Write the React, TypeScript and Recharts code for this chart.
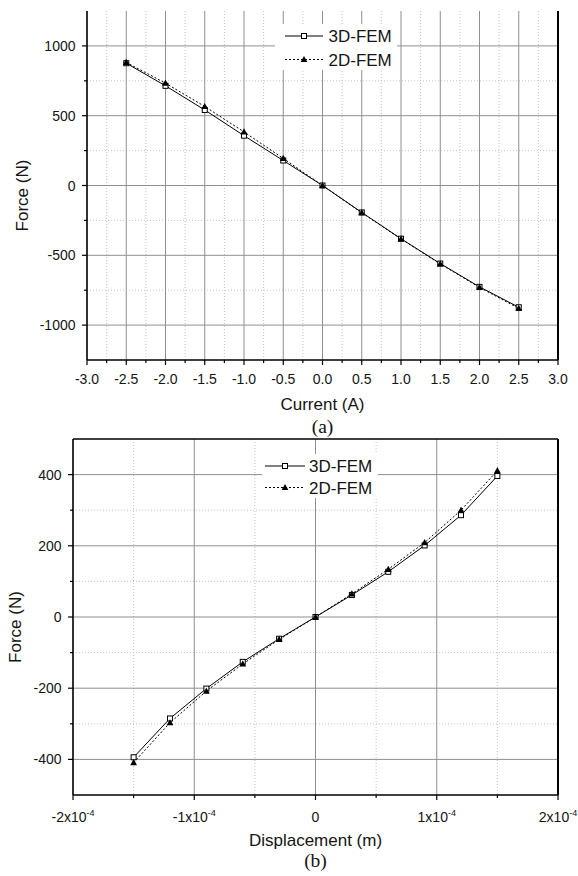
import React from 'react';
import {
  LineChart,
  Line,
  XAxis,
  YAxis,
  CartesianGrid,
  Legend,
  ReferenceLine,
  Label,
} from 'recharts';

const SANS = '"Liberation Sans", Arial, Helvetica, sans-serif';
const SERIF = '"Liberation Serif", "Times New Roman", Times, serif';

// (a) Force versus coil current
const currentA = [-2.5, -2, -1.5, -1, -0.5, 0, 0.5, 1, 1.5, 2, 2.5];
const force3DvsCurrent = [876, 714, 541, 357, 179, 0, -193, -381, -559, -726, -872];
const force2DvsCurrent = [882, 733, 566, 384, 194, 0, -195, -383, -562, -730, -880];
const currentMajorTicks = [-3, -2.5, -2, -1.5, -1, -0.5, 0, 0.5, 1, 1.5, 2, 2.5, 3];
const currentMinorTicks = [-2.75, -2.25, -1.75, -1.25, -0.75, -0.25, 0.25, 0.75, 1.25, 1.75, 2.25, 2.75];
const forceAMajorTicks = [-1000, -500, 0, 500, 1000];
const forceAMinorTicks = [-750, -250, 250, 750];

// (b) Force versus mover displacement
const displacementM = [-1.5e-4, -1.2e-4, -0.9e-4, -0.6e-4, -0.3e-4, 0, 0.3e-4, 0.6e-4, 0.9e-4, 1.2e-4, 1.5e-4];
const force3DvsDisp = [-394, -285, -201, -126, -61, 0, 62, 127, 201, 286, 396];
const force2DvsDisp = [-409, -297, -208, -132, -63, 0, 65, 134, 209, 300, 411];
const dispMajorTicks = [-2e-4, -1e-4, 0, 1e-4, 2e-4];
const dispMinorTicks = [-1.5e-4, -0.5e-4, 0.5e-4, 1.5e-4];
const forceBMajorTicks = [-400, -200, 0, 200, 400];
const forceBMinorTicks = [-300, -100, 100, 300];

const seriesNames = ['3D-FEM', '2D-FEM'];

const dataA = currentA.map((x, i) => ({ x, f3: force3DvsCurrent[i], f2: force2DvsCurrent[i] }));
const dataB = displacementM.map((x, i) => ({ x, f3: force3DvsDisp[i], f2: force2DvsDisp[i] }));

const sortNum = (a: number[]) => [...a].sort((p, q) => p - q);
const isIn = (list: number[], v: number) => list.some((m) => Math.abs(m - v) < 1e-12);

const GRID_MAJOR = '#8f8f8f';
const GRID_MINOR = '#c4c4c4';
const TEXT = '#141414';

const SquareDot = (props: any) => {
  const { cx, cy, index } = props;
  if (cx == null || cy == null) return <g key={`s${index}`} />;
  return (
    <rect key={`s${index}`} x={cx - 2.5} y={cy - 2.5} width={5} height={5} fill="#fff" stroke="#000" strokeWidth={1} />
  );
};

const TriangleDot = (props: any) => {
  const { cx, cy, index } = props;
  if (cx == null || cy == null) return <g key={`t${index}`} />;
  return (
    <path key={`t${index}`} d={`M${cx},${cy - 3.6} L${cx + 3.4},${cy + 2.6} L${cx - 3.4},${cy + 2.6} Z`} fill="#000" />
  );
};

// Bottom-axis tick: longer mark with a label for majors, short mark for minors
const makeXTick = (majors: number[], renderText: (v: number) => React.ReactNode, labelDy: number) => (props: any) => {
  const { x, y, payload } = props;
  const v = payload.value;
  const major = isIn(majors, v);
  return (
    <g>
      <line x1={x} y1={y} x2={x} y2={y + (major ? 5 : 3)} stroke="#000" strokeWidth={1.2} />
      {major && (
        <text x={x} y={y + labelDy} textAnchor="middle" fontFamily={SANS} fontSize={14} fill={TEXT}>
          {renderText(v)}
        </text>
      )}
    </g>
  );
};

const makeYTick = (majors: number[]) => (props: any) => {
  const { x, y, payload } = props;
  const v = payload.value;
  const major = isIn(majors, v);
  return (
    <g>
      <line x1={x - (major ? 5 : 3)} y1={y} x2={x} y2={y} stroke="#000" strokeWidth={1.2} />
      {major && (
        <text x={x - 11.5} y={y + 5} textAnchor="end" fontFamily={SANS} fontSize={14} fill={TEXT}>
          {String(v)}
        </text>
      )}
    </g>
  );
};

const sciText = (v: number) => {
  const n = Math.round(v / 1e-4);
  if (n === 0) return '0';
  return (
    <>
      <tspan>{`${n}x10`}</tspan>
      <tspan dy={-6} fontSize={9}>-4</tspan>
    </>
  );
};

const makeLegend = (w: number, h: number, x1: number, x2: number, tx: number, rows: number[]) => (props: any) => {
  const payload = (props && props.payload) || [];
  const items = (payload.length
    ? payload.map((p: any) => ({ name: p.value, dash: p.payload && p.payload.strokeDasharray, key: p.dataKey }))
    : [
        { name: seriesNames[0], dash: undefined, key: 'f3' },
        { name: seriesNames[1], dash: '2 2', key: 'f2' },
      ]
  ).sort((a: any, b: any) => seriesNames.indexOf(a.name) - seriesNames.indexOf(b.name));
  const mx = (x1 + x2) / 2;
  return (
    <div style={{ width: w, height: h, background: '#fff' }}>
      <svg width={w} height={h} style={{ display: 'block' }}>
        {items.map((it: any, i: number) => {
          const y = rows[i];
          return (
            <g key={it.name}>
              <line x1={x1} y1={y} x2={x2} y2={y} stroke="#000" strokeWidth={1} strokeDasharray={it.dash} />
              {it.key === 'f3' ? (
                <rect x={mx - 2.5} y={y - 2.5} width={5} height={5} fill="#fff" stroke="#000" />
              ) : (
                <path d={`M${mx},${y - 3.6} L${mx + 3.4},${y + 2.6} L${mx - 3.4},${y + 2.6} Z`} fill="#000" />
              )}
              <text x={tx} y={y + 6} fontFamily={SANS} fontSize={17} fill={TEXT}>
                {it.name}
              </text>
            </g>
          );
        })}
      </svg>
    </div>
  );
};

const yTitle = (bx: number, dyCenter: number) => (p: any) => {
  const vb = p.viewBox || {};
  const tx = bx;
  const ty = vb.y + vb.height / 2 + dyCenter;
  return (
    <text
      x={tx}
      y={ty}
      transform={`rotate(-90 ${tx} ${ty})`}
      textAnchor="middle"
      fontFamily={SANS}
      fontSize={17}
      fill={TEXT}
    >
      Force (N)
    </text>
  );
};

const xTitle = (title: string, caption: string, titleDy: number, captionDy: number) => (p: any) => {
  const vb = p.viewBox || {};
  const cx = vb.x + vb.width / 2;
  return (
    <g>
      <text x={cx} y={vb.y + titleDy} textAnchor="middle" fontFamily={SANS} fontSize={17} fill={TEXT}>
        {title}
      </text>
      <text x={cx} y={vb.y + captionDy} textAnchor="middle" fontFamily={SERIF} fontSize={19.5} fill={TEXT}>
        {caption}
      </text>
    </g>
  );
};

const ChartA = () => (
  <LineChart width={578} height={445} data={dataA} margin={{ top: 11, right: 20, bottom: 55, left: 27 }}>
    <CartesianGrid
      horizontal
      vertical
      horizontalValues={forceAMinorTicks}
      verticalValues={currentMinorTicks}
      stroke={GRID_MINOR}
      strokeDasharray="1 2"
    />
    <CartesianGrid
      horizontal
      vertical
      horizontalValues={forceAMajorTicks}
      verticalValues={currentMajorTicks}
      stroke={GRID_MAJOR}
      strokeWidth={1}
    />
    <XAxis
      dataKey="x"
      type="number"
      domain={[-3, 3]}
      ticks={sortNum([...currentMajorTicks, ...currentMinorTicks])}
      interval={0}
      height={30}
      tickSize={0}
      tickMargin={0}
      tickLine={false}
      axisLine={{ stroke: '#000', strokeWidth: 1.5 }}
      tick={makeXTick(currentMajorTicks, (v) => v.toFixed(1), 24)}
    >
      <Label content={xTitle('Current (A)', '(a)', 49.5, 73)} />
    </XAxis>
    <YAxis
      type="number"
      domain={[-1250, 1250]}
      ticks={sortNum([...forceAMajorTicks, ...forceAMinorTicks])}
      interval={0}
      width={60}
      tickSize={0}
      tickMargin={0}
      tickLine={false}
      axisLine={{ stroke: '#000', strokeWidth: 1.5 }}
      tick={makeYTick(forceAMajorTicks)}
    >
      <Label content={yTitle(27.5, 10)} />
    </YAxis>
    <ReferenceLine x={3} stroke="#000" strokeWidth={2} />
    <Legend
      layout="vertical"
      align="center"
      verticalAlign="middle"
      wrapperStyle={{ left: 275, top: 24, width: 122, height: 46 }}
      content={makeLegend(122, 46, 10, 48, 53.5, [12, 35.5])}
    />
    <Line
      type="linear"
      dataKey="f3"
      name={seriesNames[0]}
      stroke="#000"
      strokeWidth={1}
      dot={SquareDot}
      isAnimationActive={false}
    />
    <Line
      type="linear"
      dataKey="f2"
      name={seriesNames[1]}
      stroke="#000"
      strokeWidth={1}
      strokeDasharray="2 2"
      dot={TriangleDot}
      isAnimationActive={false}
    />
  </LineChart>
);

const ChartB = () => (
  <LineChart width={578} height={446} data={dataB} margin={{ top: 9, right: 20, bottom: 51, left: 23 }}>
    <CartesianGrid
      horizontal
      vertical
      horizontalValues={forceBMinorTicks}
      verticalValues={dispMinorTicks}
      stroke={GRID_MINOR}
      strokeDasharray="1 2"
    />
    <CartesianGrid
      horizontal
      vertical
      horizontalValues={forceBMajorTicks}
      verticalValues={dispMajorTicks}
      stroke={GRID_MAJOR}
      strokeWidth={1}
    />
    <XAxis
      dataKey="x"
      type="number"
      domain={[-2e-4, 2e-4]}
      ticks={sortNum([...dispMajorTicks, ...dispMinorTicks])}
      interval={0}
      height={30}
      tickSize={0}
      tickMargin={0}
      tickLine={false}
      axisLine={{ stroke: '#000', strokeWidth: 1.5 }}
      tick={makeXTick(dispMajorTicks, sciText, 27)}
    >
      <Label content={xTitle('Displacement (m)', '(b)', 51, 72)} />
    </XAxis>
    <YAxis
      type="number"
      domain={[-500, 500]}
      ticks={sortNum([...forceBMajorTicks, ...forceBMinorTicks])}
      interval={0}
      width={50}
      tickSize={0}
      tickMargin={0}
      tickLine={false}
      axisLine={{ stroke: '#000', strokeWidth: 1.5 }}
      tick={makeYTick(forceBMajorTicks)}
    >
      <Label content={yTitle(20.5, 10)} />
    </YAxis>
    <ReferenceLine y={500} stroke="#000" strokeWidth={1.5} />
    <ReferenceLine x={2e-4} stroke="#000" strokeWidth={2} />
    <Legend
      layout="vertical"
      align="center"
      verticalAlign="middle"
      wrapperStyle={{ left: 262, top: 24, width: 116, height: 44 }}
      content={makeLegend(116, 44, 3, 43, 47, [12, 33.5])}
    />
    <Line
      type="linear"
      dataKey="f3"
      name={seriesNames[0]}
      stroke="#000"
      strokeWidth={1}
      dot={SquareDot}
      isAnimationActive={false}
    />
    <Line
      type="linear"
      dataKey="f2"
      name={seriesNames[1]}
      stroke="#000"
      strokeWidth={1}
      strokeDasharray="2 2"
      dot={TriangleDot}
      isAnimationActive={false}
    />
  </LineChart>
);

export default function App() {
  return (
    <div style={{ position: 'absolute', left: 0, top: 0, width: 578, height: 876, background: '#fff', overflow: 'hidden' }}>
      <div style={{ position: 'absolute', left: 0, top: 0 }}>
        <ChartA />
      </div>
      <div style={{ position: 'absolute', left: 0, top: 430 }}>
        <ChartB />
      </div>
    </div>
  );
}
